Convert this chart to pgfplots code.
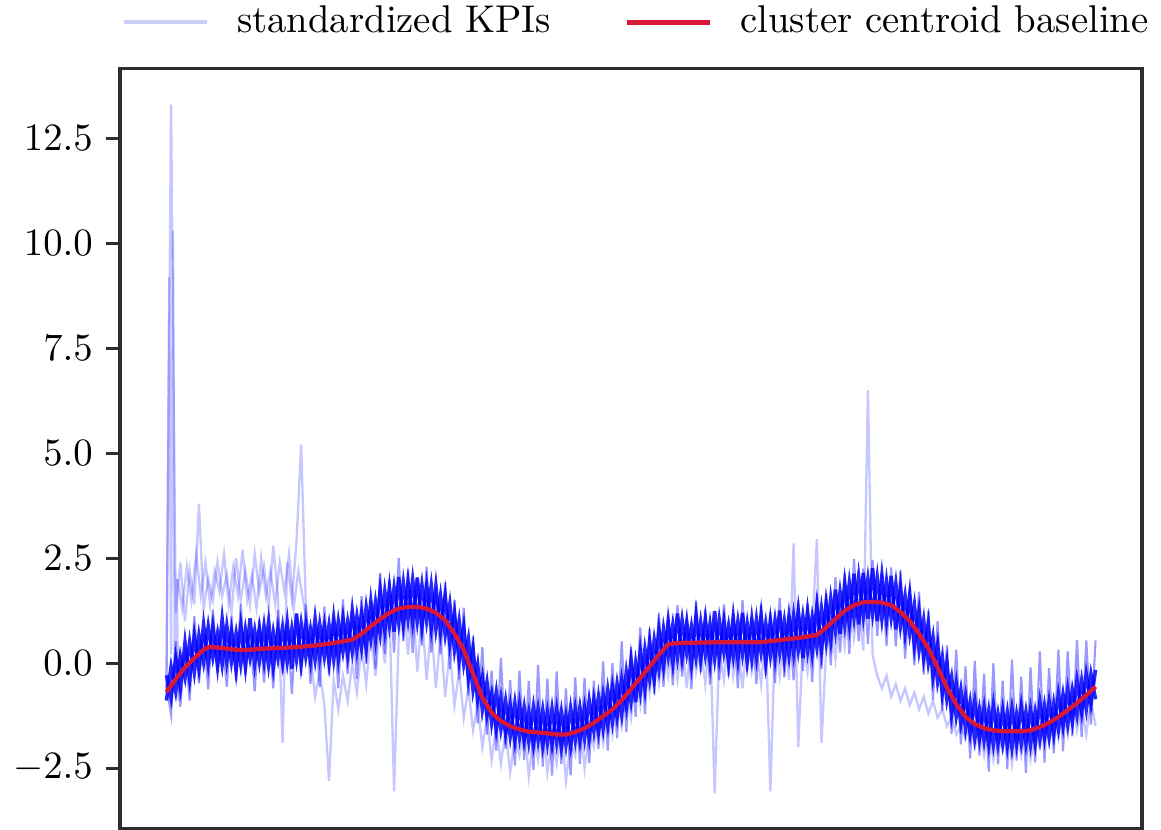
\documentclass[border=0pt]{standalone}
\usepackage{pgfplots}
\pgfplotsset{compat=1.18}
\usepackage{pgfplotstable}
\definecolor{kpi}{RGB}{0,0,255}
\definecolor{kpilight}{RGB}{205,205,250}
\definecolor{cent}{RGB}{215,25,55}
\definecolor{spine}{RGB}{45,45,45}
\pgfplotstableread{
x s1 s2 s3 s4
0 -0.29 -0.89 -0.49 -0.60
5 -0.83 -0.08 -1.23 13.3
10 0.12 -0.68 0.52 1.2
15 -0.59 0.16 -1.04 2.4
20 0.50 -0.35 0.40 1.0
25 -0.39 0.51 -0.89 2.2
30 0.67 -0.23 1.12 1.4
35 -0.13 0.67 -0.48 3.8
40 0.92 0.02 0.72 1.3
45 -0.02 0.88 -0.62 2.0
50 0.88 0.13 1.28 1.5
55 -0.08 0.72 -0.23 2.4
60 1.06 -0.04 0.66 1.6
65 0.04 0.89 -0.56 2.1
70 0.78 0.03 1.13 1.2
75 -0.18 0.72 -0.43 2.5
80 0.91 -0.04 1.41 1.5
85 -0.09 0.81 -0.29 2.2
90 1.07 0.12 0.72 1.4
95 -0.02 0.78 -0.67 2.6
100 0.84 0.04 1.04 1.7
105 0.04 0.89 -0.46 2.3
110 1.00 -0.05 0.85 1.3
115 -0.10 0.75 -0.60 2.8
120 0.81 0.11 1.26 1.6
125 0.01 0.86 -0.24 -1.9
130 0.97 0.02 0.97 2.4
135 -0.13 0.82 -0.73 1.5
140 1.18 0.08 1.18 2.9
145 -0.01 0.94 -0.31 5.2
150 0.90 0.15 1.40 1.4
155 0.06 0.81 -0.49 0.2
160 1.07 0.07 0.92 -0.8
165 0.13 0.93 -0.57 -0.2
170 0.90 0.15 1.35 -1.0
175 0.01 0.91 -0.29 -2.8
180 1.08 0.08 1.08 -0.4
185 0.10 1.00 -0.60 -1.1
190 1.07 0.27 1.52 -0.3
195 0.19 0.99 -0.26 -0.9
200 1.26 0.26 1.26 0.0
205 0.32 1.12 -0.38 -0.7
210 1.20 0.35 1.60 0.4
215 0.34 1.34 -0.01 -0.5
220 1.48 0.58 1.48 0.7
225 0.56 1.46 -0.14 -0.3
230 1.75 0.70 2.15 1.0
235 0.77 1.72 0.22 0.0
240 1.80 0.90 2.00 1.3
245 0.75 1.80 0.25 -3.05
250 2.05 0.95 2.50 0.6
255 0.92 1.92 0.52 1.6
260 1.94 1.04 2.24 0.2
265 0.99 1.99 0.24 1.5
270 2.04 0.99 2.04 -0.2
275 0.87 1.87 0.42 1.2
280 1.85 1.00 2.30 -0.4
285 0.85 1.85 0.25 0.9
290 1.85 0.80 1.80 -0.6
295 0.76 1.61 0.21 0.7
300 1.62 0.67 1.92 -0.8
305 0.46 1.41 -0.14 0.3
310 1.20 0.30 1.50 -1.0
315 0.06 1.01 -0.39 -0.2
320 0.87 -0.03 1.32 -1.3
325 -0.37 0.58 -0.77 -0.6
330 0.35 -0.65 0.65 -1.6
335 -0.88 -0.03 -1.43 -1.0
340 -0.32 -1.12 0.38 -2.0
345 -1.25 -0.45 -1.70 -1.3
350 -0.73 -1.43 -0.18 -2.3
355 -1.58 -0.68 -2.08 -1.5
360 -0.83 -1.58 0.12 -2.4
365 -1.69 -0.89 -2.04 -1.6
370 -1.00 -1.75 -0.40 -2.6
375 -1.84 -0.94 -2.44 -1.8
380 -0.98 -1.78 -0.18 -2.2
385 -1.85 -1.05 -2.30 -1.5
390 -1.18 -1.88 -0.43 -2.7
395 -1.94 -1.04 -2.54 -1.7
400 -1.10 -1.85 -0.05 -2.3
405 -1.96 -1.11 -2.46 -1.4
410 -1.17 -1.92 -0.37 -2.6
415 -1.93 -1.08 -2.68 -1.8
420 -1.10 -1.90 -0.20 -2.4
425 -2.00 -1.15 -2.40 -1.5
430 -1.25 -1.95 -0.60 -2.8
435 -1.97 -1.07 -2.67 -1.9
440 -1.09 -1.84 -0.34 -2.2
445 -1.85 -1.05 -2.40 -1.3
450 -1.05 -1.80 -0.35 -2.5
455 -1.78 -0.88 -2.38 -1.6
460 -0.87 -1.62 -0.42 -2.0
465 -1.64 -0.79 -2.04 -1.2
470 -0.76 -1.56 0.04 -1.9
475 -1.48 -0.63 -2.08 -1.0
480 -0.55 -1.40 0.00 -1.7
485 -1.29 -0.49 -1.79 -0.8
490 -0.38 -1.23 0.52 -1.5
495 -1.05 -0.20 -1.65 -0.6
500 0.08 -0.92 0.38 -1.3
505 -0.93 0.02 -1.28 -0.3
510 0.30 -0.70 0.85 -1.0
515 -0.61 0.34 -1.21 0.0
520 0.52 -0.38 0.82 -0.7
525 -0.39 0.56 -0.74 0.2
530 0.80 -0.15 1.20 -0.5
535 -0.07 0.83 -0.57 0.4
540 1.00 0.15 1.15 -0.3
545 0.02 0.92 -0.53 0.6
550 1.18 0.13 1.38 -0.4
555 0.13 1.03 -0.32 0.5
560 0.98 0.23 1.08 -0.6
565 -0.02 0.88 -0.62 0.7
570 1.13 0.13 1.48 -0.2
575 0.08 0.98 -0.22 0.4
580 1.04 0.19 1.29 -0.5
585 0.04 0.94 -0.51 0.8
590 1.24 0.09 0.99 -3.1
595 0.14 1.04 -0.41 0.3
600 1.00 0.25 1.40 -0.4
605 0.00 0.90 -0.30 0.9
610 1.10 0.15 1.20 -0.3
615 0.10 1.00 -0.60 0.5
620 1.20 0.20 1.50 -0.6
625 0.05 0.95 -0.20 0.7
630 1.05 0.10 1.10 -0.2
635 0.15 1.05 -0.50 0.4
640 1.15 0.25 1.40 -0.5
645 0.01 0.96 -0.29 0.8
650 1.02 0.17 1.22 -3.05
655 0.13 1.03 -0.47 0.6
660 1.25 0.25 1.55 -0.3
665 0.11 1.01 -0.34 0.9
670 1.12 0.17 1.17 -0.4
675 0.24 1.14 -0.41 2.85
680 1.25 0.30 1.50 -2.0
685 0.12 1.12 -0.18 0.5
690 1.23 0.28 1.43 -0.2
695 0.25 1.10 -0.45 0.8
700 1.37 0.37 1.67 2.95
705 0.31 1.31 -0.14 -1.9
710 1.45 0.50 1.65 0.3
715 0.55 1.55 -0.05 1.0
720 1.75 0.75 2.05 0.1
725 0.70 1.70 0.25 1.3
730 1.90 0.90 2.15 0.4
735 0.92 1.92 0.22 1.6
740 2.13 1.08 2.48 0.6
745 0.92 2.07 0.52 1.4
750 2.15 1.10 2.25 0.3
755 1.06 2.01 0.46 6.5
760 2.26 1.16 2.46 0.2
765 1.00 2.05 0.65 -0.3
770 2.09 1.04 2.14 -0.6
775 1.01 1.96 0.41 -0.3
780 2.08 1.08 2.28 -0.8
785 0.80 1.90 0.40 -0.5
790 1.82 0.87 2.22 -0.9
795 0.71 1.61 0.11 -0.6
800 1.65 0.70 1.80 -1.0
805 0.40 1.40 -0.05 -0.7
810 1.25 0.30 1.70 -1.1
815 0.13 1.03 -0.27 -0.8
820 0.95 0.00 1.25 -1.2
825 -0.32 0.63 -0.87 -0.9
830 0.45 -0.45 1.00 -1.3
835 -0.74 0.16 -1.14 -1.1
840 0.02 -0.88 0.42 -1.5
845 -1.23 -0.33 -1.68 -1.3
850 -0.48 -1.28 0.32 -1.7
855 -1.43 -0.63 -1.93 -1.5
860 -0.78 -1.58 -0.08 -1.8
865 -1.67 -0.92 -2.27 -1.4
870 -0.90 -1.80 0.05 -2.0
875 -1.80 -1.10 -2.20 -1.6
880 -1.05 -1.85 -0.25 -2.2
885 -1.93 -1.13 -2.58 -1.5
890 -1.00 -1.95 0.00 -2.3
895 -1.91 -1.21 -2.41 -1.7
900 -1.12 -1.92 -0.42 -2.1
905 -1.97 -1.17 -2.52 -1.4
910 -1.07 -2.02 0.08 -2.4
915 -1.92 -1.22 -2.32 -1.6
920 -1.02 -1.92 -0.32 -2.2
925 -1.91 -1.16 -2.61 -1.5
930 -1.10 -1.95 -0.10 -2.3
935 -1.91 -1.16 -2.36 -1.7
940 -0.92 -1.82 0.28 -2.0
945 -1.77 -1.02 -2.37 -1.3
950 -0.92 -1.77 -0.12 -1.9
955 -1.70 -0.95 -2.15 -1.2
960 -0.73 -1.58 0.32 -1.8
965 -1.50 -0.75 -2.10 -1.1
970 -0.62 -1.47 0.28 -1.7
975 -1.39 -0.64 -1.74 -0.9
980 -0.40 -1.25 0.55 -1.6
985 -1.16 -0.41 -1.76 -1.0
990 -0.26 -1.11 0.54 -1.7
995 -0.96 -0.26 -1.46 -0.9
1000 -0.16 -0.86 0.54 -1.5
}\kpis
\begin{document}
\begin{tikzpicture}
\begin{axis}[
  at={(0,0)}, anchor=south west,
  scale only axis, width=264.1pt, height=196.4pt,
  xmin=-50, xmax=1050, ymin=-3.93, ymax=14.17,
  xtick=\empty,
  ytick={-2.5,0,2.5,5,7.5,10,12.5},
  ytick pos=left, tick align=outside, major tick length=3.5pt,
  yticklabel style={/pgf/number format/.cd, fixed, fixed zerofill, precision=1},
  tick style={spine, line width=0.8pt},
  axis line style={spine, line width=0.8pt},
  legend columns=2,
  legend style={at={(-0.0098,1.0606)}, anchor=west, draw=none, fill=none,
    /tikz/every even column/.append style={column sep=16.9pt}},
  legend image code/.code={\draw[#1] (0pt,0pt) -- (21.5pt,0pt); \path (26.7pt,0pt);},
]
\addlegendimage{kpilight, line width=1pt}
\addlegendentry{standardized KPIs}
\addlegendimage{cent, line width=1.3pt}
\addlegendentry{cluster centroid baseline}
\addplot[kpi, opacity=0.22, line width=0.6pt, forget plot] table[x=x,y=s4]{\kpis};
\addplot[kpi, opacity=0.22, line width=0.6pt, forget plot] coordinates {(0,-0.7)(3,9.2)(5,0.2)(7,10.3)(9,-0.4)(11,2.0)(13,-0.9)(15,0.4)};
\addplot[kpi, opacity=0.22, line width=0.6pt, forget plot] coordinates {(12,2.0)(17,1.3)(22,2.3)(27,1.5)(32,2.6)(37,1.6)(42,2.4)(47,1.4)(52,2.2)(57,1.7)(62,2.6)(67,1.4)(72,2.3)(77,1.6)(82,2.7)(87,1.5)(92,2.1)(97,1.3)(102,2.5)(107,1.6)(112,2.2)(117,1.4)(122,2.4)(127,1.7)(132,2.6)(137,1.3)(142,2.2)(147,1.5)(152,0.9)(157,0.3)};
\addplot[kpi, opacity=0.4, line width=0.55pt, forget plot] table[x=x,y=s3]{\kpis};
\addplot[kpi, opacity=0.85, line width=0.9pt, forget plot] table[x=x,y=s2]{\kpis};
\addplot[kpi, opacity=0.85, line width=0.9pt, forget plot] table[x=x,y=s1]{\kpis};
\addplot[cent, line width=1.1pt, forget plot] coordinates {
(0,-0.69)(10,-0.38)(20,-0.10)(30,0.12)(40,0.32)(45,0.38)(50,0.38)(60,0.36)(70,0.33)(80,0.31)(90,0.32)(100,0.34)(110,0.35)(120,0.36)(130,0.37)(140,0.38)(150,0.40)(160,0.42)(170,0.45)(180,0.48)(190,0.52)(200,0.56)(210,0.70)(220,0.88)(230,1.05)(240,1.20)(250,1.30)(260,1.34)(270,1.34)(280,1.30)(290,1.20)(300,1.02)(310,0.70)(320,0.32)(330,-0.25)(340,-0.82)(350,-1.18)(360,-1.38)(370,-1.50)(380,-1.58)(390,-1.63)(400,-1.65)(410,-1.67)(420,-1.70)(430,-1.70)(440,-1.64)(450,-1.55)(460,-1.42)(470,-1.26)(480,-1.10)(490,-0.88)(500,-0.62)(510,-0.35)(520,-0.08)(530,0.20)(540,0.45)(550,0.48)(600,0.50)(640,0.50)(660,0.55)(680,0.60)(700,0.67)(710,0.85)(720,1.05)(730,1.25)(740,1.38)(750,1.45)(760,1.46)(770,1.44)(780,1.38)(790,1.22)(800,1.00)(810,0.70)(820,0.35)(830,-0.10)(840,-0.58)(850,-0.98)(860,-1.28)(870,-1.45)(880,-1.55)(890,-1.60)(900,-1.62)(920,-1.62)(930,-1.60)(940,-1.52)(950,-1.42)(960,-1.28)(970,-1.12)(980,-0.95)(990,-0.76)(1000,-0.56)};
\end{axis}
\pgfresetboundingbox
\path[use as bounding box] (-31pt,-0.4pt) rectangle (269pt,214pt);
\end{tikzpicture}
\end{document}
